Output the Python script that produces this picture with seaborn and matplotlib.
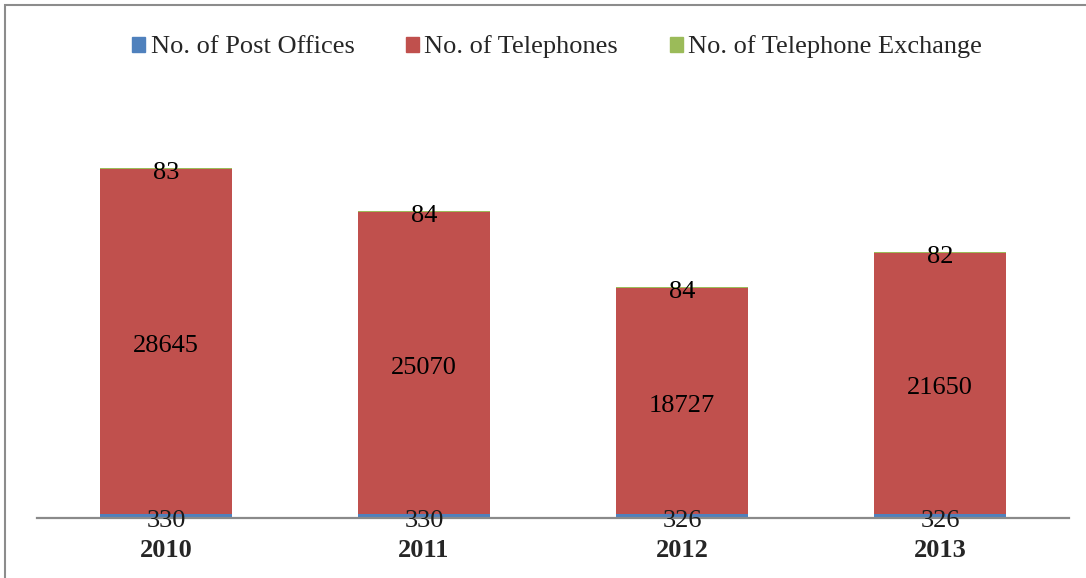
import matplotlib
matplotlib.use("Agg")
import matplotlib.pyplot as plt
from matplotlib.patches import Rectangle
import matplotlib.transforms as mtransforms
import seaborn as sns
import pandas as pd
import numpy as np

years = ["2010", "2011", "2012", "2013"]
post_offices = [330, 330, 326, 326]
telephones = [28645, 25070, 18727, 21650]
exchanges = [83, 84, 84, 82]

series_names = ["No. of Post Offices", "No. of Telephones", "No. of Telephone Exchange"]
colors = ["#4F81BD", "#C0504D", "#9BBB59"]

sns.set_theme(style="white")
plt.rcParams["font.family"] = ["Liberation Serif", "DejaVu Serif"]

df = pd.DataFrame({"year": years, "post": post_offices, "tel": telephones, "exc": exchanges})
df["c1"] = df["post"]
df["c2"] = df["post"] + df["tel"]
df["c3"] = df["c2"] + df["exc"]

fig = plt.figure(figsize=(10.86, 5.78), dpi=100)
ax = fig.add_axes([37 / 1086, 60 / 578, 1032 / 1086, 418 / 578])

for col, color in zip(["c3", "c2", "c1"], colors[::-1]):
    sns.barplot(data=df, x="year", y=col, color=color, width=0.51, ax=ax,
                saturation=1, errorbar=None, linewidth=0)

ax.set_ylim(0, 34700)
ax.set_xlim(-0.5, 3.5)
ax.set_xlabel("")
ax.set_ylabel("")
ax.set_yticks([])
for s in ["top", "right", "left"]:
    ax.spines[s].set_visible(False)
ax.spines["bottom"].set_color("#8a8a8a")
ax.spines["bottom"].set_linewidth(1.6)
ax.spines["bottom"].set_zorder(5)
ax.tick_params(axis="x", length=0, pad=15, labelsize=19)
for lab in ax.get_xticklabels():
    lab.set_fontweight("bold")

fs = 19
tr = mtransforms.offset_copy(ax.transData, fig=fig, x=0, y=-2, units="dots")
for i in range(len(years)):
    ax.text(i, df["post"][i] / 2, str(post_offices[i]), ha="center", va="center_baseline", fontsize=fs, color="#1a1a1a", zorder=6, transform=tr)
    ax.text(i, df["post"][i] + df["tel"][i] / 2, str(telephones[i]), ha="center", va="center_baseline", fontsize=fs, color="black", transform=tr)
    ax.text(i, df["c2"][i] + df["exc"][i] / 2, str(exchanges[i]), ha="center", va="center_baseline", fontsize=fs, color="black", transform=tr)

handles = [Rectangle((0, 0), 1, 1, color=c) for c in colors]
fig.legend(handles, series_names, loc="center", bbox_to_anchor=(557 / 1086, 1 - 47 / 578),
           ncol=3, frameon=False, fontsize=19, handlelength=0.5, handleheight=0.5,
           handletextpad=0.2, columnspacing=1.95)

# outer chart frame (left and top edges visible)
fig.patches.append(Rectangle((5 / 1086, -0.5), 2, 1.5 - 5 / 578, transform=fig.transFigure,
                             fill=False, edgecolor="#8c8c8c", linewidth=1.5, clip_on=False))

fig.savefig("out.png", dpi=100)
